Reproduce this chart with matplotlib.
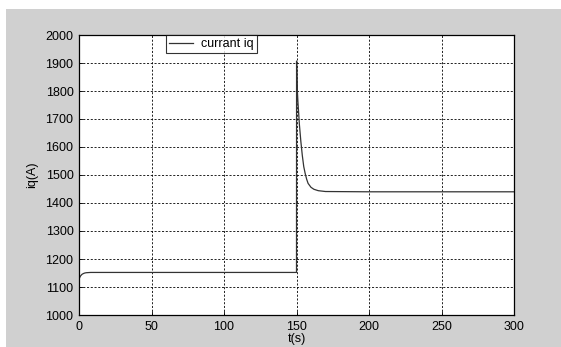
import matplotlib
matplotlib.use("Agg")
import matplotlib.pyplot as plt
from matplotlib.patches import Rectangle

# Data
t = [0, 0.5, 1, 2, 3, 4, 5, 8, 12, 150, 150.05, 150.2, 150.5, 151, 152, 153, 154, 155,
     156, 157, 158, 160, 162, 165, 170, 200, 300]
iq = [1128, 1134, 1139, 1145, 1148, 1150, 1151, 1152, 1152, 1152, 1907, 1880, 1810, 1760,
      1680, 1620, 1570, 1530, 1505, 1485, 1470, 1456, 1449, 1444, 1441, 1440, 1440]
xticks = [0, 50, 100, 150, 200, 250, 300]
yticks = [1000, 1100, 1200, 1300, 1400, 1500, 1600, 1700, 1800, 1900, 2000]

plt.rcParams['font.family'] = ['Liberation Sans', 'DejaVu Sans']

W, H = 561, 347
fig = plt.figure(figsize=(W / 100, H / 100), dpi=100, facecolor='white')
fig.patches.append(Rectangle((6 / W, 0), 1 - 6 / W, 1 - 9 / H, transform=fig.transFigure,
                             facecolor='#d0d0d0', edgecolor='none', zorder=-10))

left, right, top, bottom = 79, 514, 35, 315
ax = fig.add_axes([left / W, 1 - bottom / H, (right - left) / W, (bottom - top) / H])
ax.set_facecolor('white')

ax.plot(t, iq, color='#333333', lw=0.9, label='currant iq')
ax.set_xlim(0, 300)
ax.set_ylim(1000, 2000)
ax.set_xticks(xticks)
ax.set_yticks(yticks)
ax.tick_params(direction='in', length=3, width=0.6, labelsize=9, pad=4, colors='black')
ax.grid(True, color='black', linestyle=(0, (2.5, 2)), linewidth=0.6)
for s in ax.spines.values():
    s.set_linewidth(0.9)
    s.set_color('black')

ax.set_xlabel('t(s)', fontsize=9, labelpad=0)
ax.set_ylabel('iq(A)', fontsize=9, labelpad=5)

leg = ax.legend(loc='upper left', bbox_to_anchor=((166 - left) / (right - left), 1.0),
                fontsize=9, frameon=True, fancybox=False, borderpad=0.25,
                handlelength=1.9, handletextpad=0.65, borderaxespad=0)
leg.get_frame().set_edgecolor('black')
leg.get_frame().set_linewidth(0.8)

fig.savefig('out.png', dpi=100, facecolor=fig.get_facecolor())
